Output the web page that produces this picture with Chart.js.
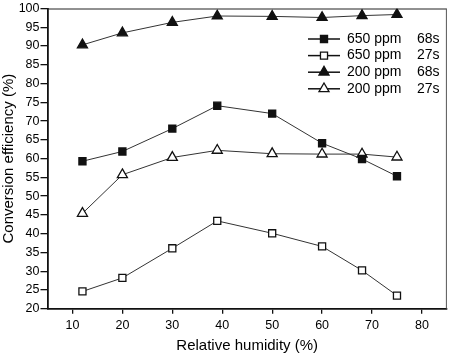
<!DOCTYPE html>
<html>
<head>
<meta charset="utf-8">
<script src="https://cdn.jsdelivr.net/npm/chart.js@4/dist/chart.umd.min.js"></script>
<style>
  html, body { margin: 0; padding: 0; background: #fff; }
  canvas { display: block; }
</style>
</head>
<body>
<canvas id="chart" width="454" height="356"></canvas>
<script>
// relative humidity (%) where samples were taken
const humidity = [12, 20, 30, 39, 50, 60, 68, 75];
const xTicks = [10, 20, 30, 40, 50, 60, 70, 80];

// conversion efficiency (%) per series
const ppm650_68s = [59.3, 61.9, 68.0, 74.1, 72.0, 64.1, 59.9, 55.3];
const ppm650_27s = [24.6, 28.2, 36.1, 43.4, 40.1, 36.6, 30.2, 23.5];
const ppm200_68s = [90.3, 93.5, 96.3, 98.0, 97.9, 97.6, 98.1, 98.4];
const ppm200_27s = [45.4, 55.7, 60.3, 62.2, 61.3, 61.2, 61.2, 60.4];

const concLabels = ['650 ppm', '650 ppm', '200 ppm', '200 ppm'];
const timeLabels = ['68s', '27s', '68s', '27s'];

const FONT = "'Liberation Sans', Arial, Helvetica, sans-serif";

function series(i, values, style, filled) {
    return {
        label: concLabels[i] + ' ' + timeLabels[i],
        data: humidity.map((h, k) => ({x: h, y: values[k]})),
        borderColor: '#333',
        borderWidth: 1,
        pointStyle: style,
        pointRadius: style === 'rect' ? 5 : 5.8,
        pointBackgroundColor: filled ? '#111' : '#fff',
        pointBorderColor: '#111',
        pointBorderWidth: 1.3,
        tension: 0
    };
}

// legend inside the plot, two text columns (concentration, time)
const insideLegend = {
    id: 'insideLegend',
    afterDatasetsDraw(chart) {
        const ctx = chart.ctx;
        const x0 = 308, x1 = 340, textX = 347, timeX = 417;
        const y0 = 39, step = 16.6;
        ctx.save();
        ctx.font = '14px ' + FONT;
        ctx.textBaseline = 'middle';
        ctx.fillStyle = '#000';
        chart.data.datasets.forEach((ds, i) => {
            const y = y0 + i * step;
            ctx.strokeStyle = '#111';
            ctx.lineWidth = 1.5;
            ctx.beginPath();
            ctx.moveTo(x0, y);
            ctx.lineTo(x1, y);
            ctx.stroke();
            ctx.fillStyle = ds.pointBackgroundColor;
            ctx.strokeStyle = ds.pointBorderColor;
            ctx.lineWidth = ds.pointBorderWidth;
            Chart.helpers.drawPoint(ctx, {
                pointStyle: ds.pointStyle,
                radius: ds.pointRadius,
                borderWidth: ds.pointBorderWidth,
                rotation: 0
            }, (x0 + x1) / 2, y);
            ctx.fillStyle = '#000';
            ctx.fillText(concLabels[i], textX, y);
            ctx.fillText(timeLabels[i], timeX, y);
        });
        ctx.restore();
    }
};

// top and right edges of the plot box
const frame = {
    id: 'frame',
    beforeDatasetsDraw(chart) {
        const a = chart.chartArea, ctx = chart.ctx;
        ctx.save();
        ctx.lineWidth = 1;
        ctx.strokeStyle = '#222';
        ctx.beginPath();
        ctx.moveTo(a.left, a.top + 0.5);
        ctx.lineTo(a.right - 0.5, a.top + 0.5);
        ctx.stroke();
        ctx.strokeStyle = '#555';
        ctx.beginPath();
        ctx.moveTo(a.right - 0.5, a.top);
        ctx.lineTo(a.right - 0.5, a.bottom);
        ctx.stroke();
        ctx.restore();
    }
};

new Chart(document.getElementById('chart'), {
    type: 'line',
    data: {
        datasets: [
            series(0, ppm650_68s, 'rect', true),
            series(1, ppm650_27s, 'rect', false),
            series(2, ppm200_68s, 'triangle', true),
            series(3, ppm200_27s, 'triangle', false)
        ]
    },
    options: {
        responsive: false,
        animation: false,
        layout: {padding: {top: 7, right: 4, left: 0, bottom: 0}},
        plugins: {
            legend: {display: false},
            tooltip: {enabled: false}
        },
        scales: {
            x: {
                type: 'linear',
                min: 5,
                max: 85,
                afterBuildTicks: scale => {
                    scale.ticks = xTicks.map(v => ({value: v}));
                },
                afterFit: scale => { scale.height = 47.3; },
                grid: {drawOnChartArea: false, drawTicks: true, tickLength: 5, color: '#111', lineWidth: 1.3},
                border: {color: '#111', width: 1.8},
                ticks: {color: '#000', font: {family: FONT, size: 12.5}, padding: 4, maxRotation: 0},
                title: {
                    display: true,
                    text: 'Relative humidity (%)',
                    color: '#000',
                    font: {family: FONT, size: 15},
                    padding: {top: 0, bottom: 1}
                }
            },
            y: {
                min: 20,
                max: 100,
                afterFit: scale => { scale.width = 47.5; },
                grid: {drawOnChartArea: false, drawTicks: true, tickLength: 7, color: '#111', lineWidth: 1.3},
                border: {color: '#111', width: 1.8},
                ticks: {stepSize: 5, color: '#000', font: {family: FONT, size: 12.5}, padding: 1},
                title: {
                    display: true,
                    text: 'Conversion efficiency (%)',
                    color: '#000',
                    font: {family: FONT, size: 15},
                    padding: {top: 0, bottom: 0}
                }
            }
        }
    },
    plugins: [frame, insideLegend]
});
</script>
</body>
</html>
